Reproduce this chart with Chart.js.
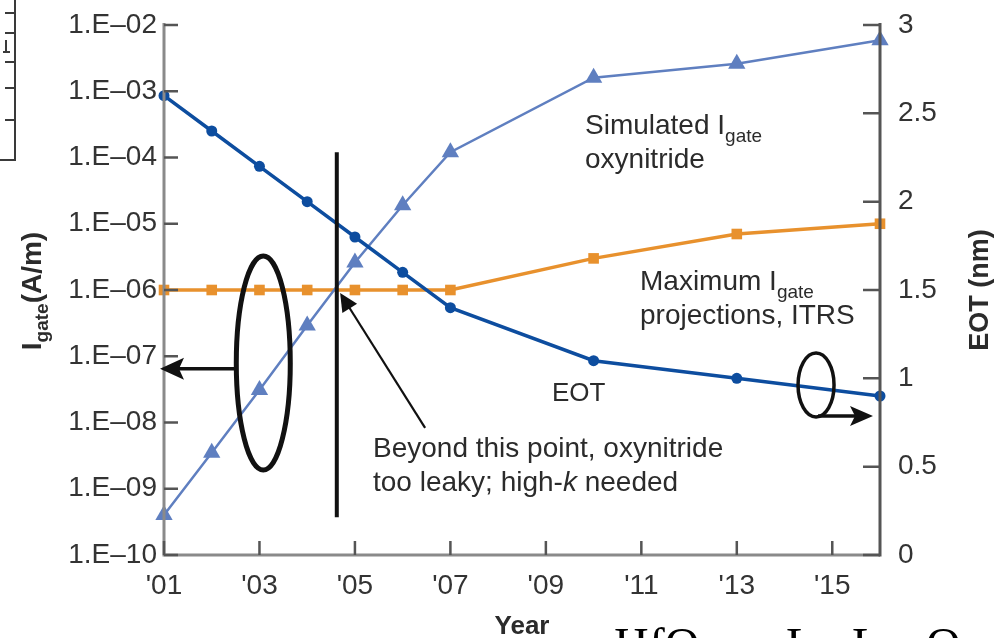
<!DOCTYPE html>
<html>
<head>
<meta charset="utf-8">
<script src="https://cdn.jsdelivr.net/npm/chart.js@4.4.1/dist/chart.umd.min.js"></script>
<style>
  html, body { margin: 0; padding: 0; background: #ffffff; overflow: hidden; }
  canvas { display: block; }
</style>
</head>
<body>
<canvas id="chart" width="1007" height="638"></canvas>
<script>
// Gate leakage vs. year, with EOT on the secondary axis
const years = [2001, 2002, 2003, 2004, 2005, 2006, 2007, 2010, 2013, 2016];
const eotNm = [2.6, 2.4, 2.2, 2.0, 1.8, 1.6, 1.4, 1.1, 1.0, 0.9];
const simulatedIgate = [4.0e-10, 3.5e-9, 3.1e-8, 2.9e-7, 2.6e-6, 1.9e-5, 1.2e-4, 1.6e-3, 2.6e-3, 5.9e-3];
const maxIgateItrs = [1e-6, 1e-6, 1e-6, 1e-6, 1e-6, 1e-6, 1e-6, 3.0e-6, 7.0e-6, 1.0e-5];

const yearTicks = [2001, 2003, 2005, 2007, 2009, 2011, 2013, 2015];
const yearTickLabels = ["'01", "'03", "'05", "'07", "'09", "'11", "'13", "'15"];
const igateTicks = [1e-10, 1e-9, 1e-8, 1e-7, 1e-6, 1e-5, 1e-4, 1e-3, 1e-2];
const igateTickLabels = ['1.E\u201310', '1.E\u201309', '1.E\u201308', '1.E\u201307', '1.E\u201306',
                         '1.E\u201305', '1.E\u201304', '1.E\u201303', '1.E\u201302'];
const eotTicks = [0, 0.5, 1, 1.5, 2, 2.5, 3];
const eotTickLabels = ['0', '0.5', '1', '1.5', '2', '2.5', '3'];

const SANS = "'Liberation Sans', Arial, sans-serif";
const SERIF = "'Liberation Serif', 'Times New Roman', serif";
const TEXT = '#2b2b2b';

const pts = (vals) => years.map((x, i) => ({ x, y: vals[i] }));

// keep label overhang from pushing the plot area around
const noOverhang = s => { s.paddingTop = 0; s.paddingBottom = 0; s.paddingLeft = 0; s.paddingRight = 0; };

// inward tick marks, axis lines and callouts
const overlay = {
  id: 'overlay',
  afterDatasetsDraw(chart) {
    const { ctx, chartArea: a, scales } = chart;
    const xs = scales.x, yl = scales.y, yr = scales.yEot;
    const X = v => xs.getPixelForValue(v);
    const YL = v => yl.getPixelForValue(v);
    const YR = v => yr.getPixelForValue(v);
    ctx.save();
    ctx.lineCap = 'butt';

    // axis lines
    ctx.strokeStyle = '#8a8a8a';
    ctx.lineWidth = 3;
    ctx.beginPath();
    ctx.moveTo(a.left, a.top - 2); ctx.lineTo(a.left, a.bottom);
    ctx.lineTo(a.right, a.bottom);
    ctx.stroke();
    ctx.strokeStyle = '#555555';
    ctx.beginPath();
    ctx.moveTo(a.right, a.top - 2); ctx.lineTo(a.right, a.bottom + 1.5);
    ctx.stroke();

    // tick marks pointing into the plot
    ctx.lineWidth = 2.5;
    ctx.strokeStyle = '#555555';
    ctx.beginPath();
    igateTicks.forEach(v => { const y = YL(v); ctx.moveTo(a.left, y); ctx.lineTo(a.left + 14, y); });
    eotTicks.forEach(v => { const y = YR(v); ctx.moveTo(a.right - 17, y); ctx.lineTo(a.right, y); });
    yearTicks.forEach(v => { const x = X(v); ctx.moveTo(x, a.bottom); ctx.lineTo(x, a.bottom - 14); });
    ctx.stroke();

    ctx.strokeStyle = '#111111';
    ctx.fillStyle = '#111111';

    // high-k cut-over line
    ctx.lineWidth = 4;
    ctx.beginPath();
    ctx.moveTo(X(2004.62), YL(1.2e-4));
    ctx.lineTo(X(2004.62), YL(3.7e-10));
    ctx.stroke();

    // ellipse marking the Igate series, arrow to the left axis
    const ex = X(2003.08), ey = YL(7.9e-8);
    ctx.lineWidth = 5;
    ctx.beginPath();
    ctx.ellipse(ex, ey, 27, 107, 0, 0, Math.PI * 2);
    ctx.stroke();
    const ay = YL(6.5e-8);
    ctx.lineWidth = 3.5;
    ctx.beginPath();
    ctx.moveTo(ex - 27, ay); ctx.lineTo(a.left + 12, ay);
    ctx.stroke();
    ctx.beginPath();
    ctx.moveTo(a.left - 4, ay);
    ctx.lineTo(a.left + 20, ay - 11);
    ctx.lineTo(a.left + 15, ay);
    ctx.lineTo(a.left + 20, ay + 11);
    ctx.closePath();
    ctx.fill();

    // ellipse marking EOT, arrow to the right axis
    const sx = X(2014.66), sy = YR(0.962);
    ctx.lineWidth = 3.5;
    ctx.beginPath();
    ctx.ellipse(sx, sy, 18, 32, 0, 0, Math.PI * 2);
    ctx.stroke();
    const ry = YR(0.787);
    ctx.beginPath();
    ctx.moveTo(sx + 2, ry); ctx.lineTo(a.right - 20, ry);
    ctx.stroke();
    ctx.beginPath();
    ctx.moveTo(a.right - 7, ry);
    ctx.lineTo(a.right - 30, ry - 10);
    ctx.lineTo(a.right - 25, ry);
    ctx.lineTo(a.right - 30, ry + 10);
    ctx.closePath();
    ctx.fill();

    // pointer from the note to the crossing point
    const p0x = X(2006.47), p0y = YL(8.3e-9);
    const p1x = X(2004.69), p1y = YL(9.0e-7);
    const ang = Math.atan2(p1y - p0y, p1x - p0x);
    ctx.lineWidth = 2.2;
    ctx.beginPath();
    ctx.moveTo(p0x, p0y);
    ctx.lineTo(p1x - Math.cos(ang) * 10, p1y - Math.sin(ang) * 10);
    ctx.stroke();
    ctx.beginPath();
    ctx.moveTo(p1x, p1y);
    ctx.lineTo(p1x - Math.cos(ang - 0.45) * 20, p1y - Math.sin(ang - 0.45) * 20);
    ctx.lineTo(p1x - Math.cos(ang + 0.45) * 20, p1y - Math.sin(ang + 0.45) * 20);
    ctx.closePath();
    ctx.fill();
    ctx.restore();
  },
  afterDraw(chart) {
    const { ctx } = chart;
    ctx.save();
    ctx.fillStyle = TEXT;
    ctx.textBaseline = 'alphabetic';
    ctx.textAlign = 'left';

    const rich = (parts, x, y) => {
      let cx = x;
      parts.forEach(p => {
        ctx.font = p.font;
        ctx.fillText(p.t, cx, y + (p.dy || 0));
        cx += ctx.measureText(p.t).width;
      });
    };
    const richWidth = (parts) => parts.reduce((w, p) => { ctx.font = p.font; return w + ctx.measureText(p.t).width; }, 0);

    const body = `28px ${SANS}`;
    const sub = `19px ${SANS}`;
    rich([{ t: 'Simulated I', font: body }, { t: 'gate', font: sub, dy: 8 }], 585, 134);
    rich([{ t: 'oxynitride', font: body }], 585, 168);
    rich([{ t: 'Maximum I', font: body }, { t: 'gate', font: sub, dy: 8 }], 640, 290);
    rich([{ t: 'projections, ITRS', font: body }], 640, 324);
    rich([{ t: 'EOT', font: `26px ${SANS}` }], 552, 401);
    rich([{ t: 'Beyond this point, oxynitride', font: body }], 373, 457);
    rich([{ t: 'too leaky; high-', font: body }, { t: 'k', font: `italic 28px ${SANS}` },
          { t: ' needed', font: body }], 373, 491);

    // axis titles
    const leftTitle = [{ t: 'I', font: `bold 28px ${SANS}` }, { t: 'gate', font: `bold 19px ${SANS}`, dy: 7 },
                       { t: '(A/m)', font: `bold 28px ${SANS}` }];
    ctx.save();
    ctx.translate(41, 291);
    ctx.rotate(-Math.PI / 2);
    rich(leftTitle, -richWidth(leftTitle) / 2, 0);
    ctx.restore();

    ctx.save();
    ctx.translate(988, 290);
    ctx.rotate(-Math.PI / 2);
    ctx.font = `bold 27px ${SANS}`;
    ctx.textAlign = 'center';
    ctx.fillText('EOT (nm)', 0, 0);
    ctx.restore();

    ctx.font = `bold 26px ${SANS}`;
    ctx.textAlign = 'center';
    ctx.fillText('Year', 522, 634);

    // neighbouring figure material at the page edges
    ctx.textAlign = 'left';
    ctx.fillStyle = '#000000';
    ctx.font = `48px ${SERIF}`;
    ctx.fillText('HfO\u2082', 614, 661);
    ctx.fillText('La', 786, 661);
    ctx.fillText('La', 852, 661);
    ctx.fillText('O', 926, 661);

    ctx.strokeStyle = '#3a3a3a';
    ctx.lineWidth = 2;
    ctx.beginPath();
    ctx.moveTo(15, 0); ctx.lineTo(15, 160); ctx.lineTo(0, 160);
    [13, 33, 62, 88, 120].forEach(y => { ctx.moveTo(5, y); ctx.lineTo(15, y); });
    ctx.moveTo(6, 40); ctx.lineTo(6, 52); ctx.moveTo(3, 52); ctx.lineTo(10, 52);
    ctx.stroke();
    ctx.restore();
  }
};

new Chart(document.getElementById('chart'), {
  type: 'line',
  data: {
    datasets: [
      {
        label: 'EOT',
        data: pts(eotNm),
        yAxisID: 'yEot',
        borderColor: '#0d4d9f',
        backgroundColor: '#0d4d9f',
        borderWidth: 3.5,
        pointStyle: 'circle',
        pointRadius: 5.5,
        pointBackgroundColor: '#0d4d9f',
        pointBorderWidth: 0,
        tension: 0,
        clip: false,
        order: 0
      },
      {
        label: 'Simulated Igate oxynitride',
        data: pts(simulatedIgate),
        yAxisID: 'y',
        borderColor: '#5f7fc0',
        backgroundColor: '#5f7fc0',
        borderWidth: 2.5,
        pointStyle: 'triangle',
        pointRadius: 10,
        pointBackgroundColor: '#5f7fc0',
        pointBorderWidth: 0,
        tension: 0,
        clip: false,
        order: 1
      },
      {
        label: 'Maximum Igate projections, ITRS',
        data: pts(maxIgateItrs),
        yAxisID: 'y',
        borderColor: '#e8912d',
        backgroundColor: '#e8912d',
        borderWidth: 3.5,
        pointStyle: 'rect',
        pointRadius: 7.5,
        pointBackgroundColor: '#e8912d',
        pointBorderWidth: 0,
        tension: 0,
        clip: false,
        order: 2
      }
    ]
  },
  options: {
    responsive: false,
    animation: false,
    devicePixelRatio: 1,
    layout: { padding: { top: 25, left: 0, right: 0, bottom: 0 } },
    plugins: { legend: { display: false }, tooltip: { enabled: false } },
    scales: {
      x: {
        type: 'linear',
        min: 2001,
        max: 2016,
        grid: { display: false, drawTicks: false },
        border: { display: false },
        afterBuildTicks: s => { s.ticks = yearTicks.map(v => ({ value: v })); },
        afterFit: s => { s.height = 83; noOverhang(s); },
        ticks: {
          autoSkip: false,
          maxRotation: 0,
          padding: 14,
          color: '#333333',
          font: { family: SANS, size: 28 },
          callback: (v, i) => yearTickLabels[i]
        }
      },
      y: {
        type: 'logarithmic',
        position: 'left',
        min: 1e-10,
        max: 1e-2,
        grid: { display: false, drawTicks: false },
        border: { display: false },
        afterBuildTicks: s => { s.ticks = igateTicks.map(v => ({ value: v })); },
        afterFit: s => { s.width = 164; noOverhang(s); },
        ticks: {
          autoSkip: false,
          padding: 7,
          color: '#333333',
          font: { family: SANS, size: 28 },
          callback: (v, i) => igateTickLabels[i]
        }
      },
      yEot: {
        type: 'linear',
        position: 'right',
        min: 0,
        max: 3,
        grid: { display: false, drawTicks: false },
        border: { display: false },
        afterBuildTicks: s => { s.ticks = eotTicks.map(v => ({ value: v })); },
        afterFit: s => { s.width = 127; noOverhang(s); },
        ticks: {
          autoSkip: false,
          padding: 18,
          color: '#333333',
          font: { family: SANS, size: 28 },
          callback: (v, i) => eotTickLabels[i]
        }
      }
    }
  },
  plugins: [overlay]
});
</script>
</body>
</html>
